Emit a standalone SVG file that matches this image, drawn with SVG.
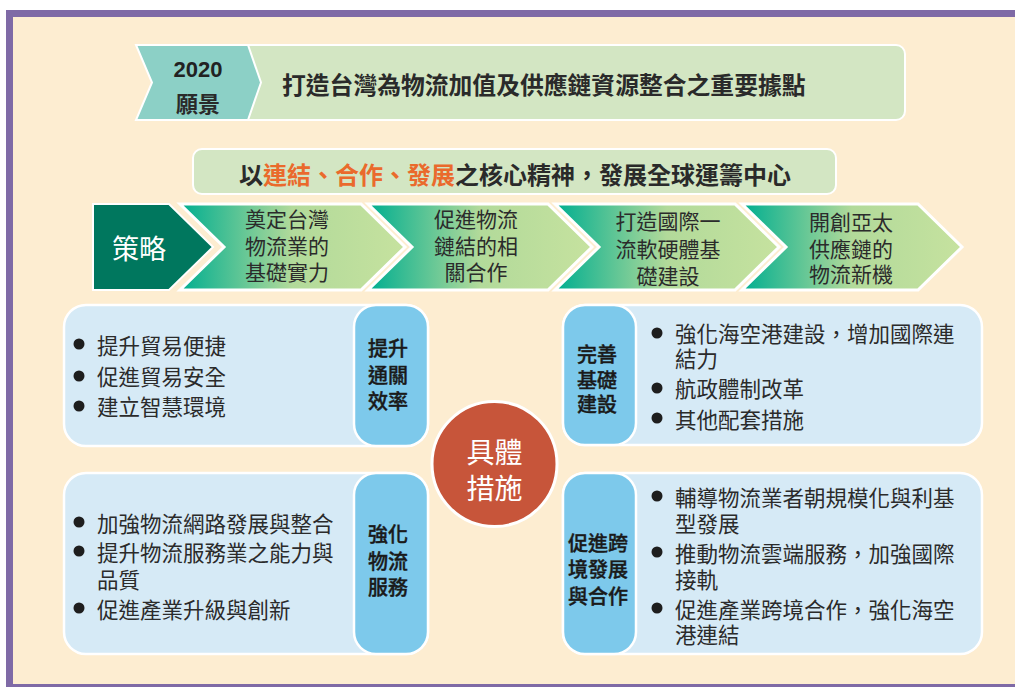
<svg xmlns="http://www.w3.org/2000/svg" width="1015" height="687" viewBox="0 0 1015 687">
<defs>
<style>
text{font-family:"Noto Sans CJK TC","Noto Sans CJK SC",sans-serif;}
.t{font-size:21.5px;fill:#2b2b2b;dominant-baseline:central;}
.lbl{font-size:20px;fill:#1a1a1a;font-weight:500;text-anchor:middle;dominant-baseline:central;stroke:#1a1a1a;stroke-width:0.4;}
.chev{fill:url(#g);stroke:#fff;stroke-width:3;stroke-linejoin:miter;}
.ct{font-size:21px;fill:#2b2b2b;text-anchor:middle;dominant-baseline:central;}
.box{fill:#D6EAF6;stroke:#fff;stroke-width:2.5;}
.tab{fill:#7DC9EB;stroke:#fff;stroke-width:2.5;}
.dot{fill:#1e1e1e;}
.or{fill:#EA6A2C;}
</style>
<linearGradient id="g" x1="0" y1="0" x2="1" y2="0">
<stop offset="0" stop-color="#00AE90"/>
<stop offset="0.5" stop-color="#B2DA9A"/>
<stop offset="1" stop-color="#C6E29F"/>
</linearGradient>
</defs>

<g id="frame">
<rect x="0" y="0" width="1015" height="687" fill="#ffffff"/>
<rect x="7" y="10" width="1008" height="677" fill="#FDEDD1"/>
<rect x="7" y="10" width="1008" height="7" fill="#7F6AA6"/>
<rect x="6" y="10" width="7" height="677" fill="#7F6AA6"/>
<rect x="6" y="684" width="1009" height="3" fill="#7F6AA6"/>
</g>

<g id="connectors"></g>

<g id="vision">
<rect x="230" y="45" width="675" height="75" rx="9" fill="#D3E6C3" stroke="#fff" stroke-width="2"/>
<polygon points="136,45 248,45 261,82.5 248,120 136,120 152,82.5" fill="#8CD0C6" stroke="#fff" stroke-width="2"/>
<text x="198" y="69" text-anchor="middle" dominant-baseline="central" style="font-family:'Liberation Sans',Arial,sans-serif;font-size:22px;font-weight:bold;fill:#222">2020</text>
<text x="198" y="102" text-anchor="middle" dominant-baseline="central" style="font-size:22px;font-weight:bold;fill:#2a2a2a">願景</text>
<text x="282" y="83" dominant-baseline="central" style="font-size:23.8px;font-weight:bold;fill:#2a2a2a">打造台灣為物流加值及供應鏈資源整合之重要據點</text>
</g>

<g id="mission">
<rect x="193" y="149" width="643" height="45" rx="9" fill="#D3E6C3" stroke="#fff" stroke-width="2"/>
<text x="515" y="173" text-anchor="middle" dominant-baseline="central" style="font-size:24px;font-weight:bold;fill:#2a2a2a">以<tspan class="or">連結、合作、發展</tspan>之核心精神，發展全球運籌中心</text>
</g>

<g id="strategy">
<polygon points="93,204 169,204 213,247 169,290 93,290" fill="#00775E" stroke="#fff" stroke-width="2"/>
<text x="139" y="247" text-anchor="middle" dominant-baseline="central" style="font-size:27px;fill:#fff">策略</text>
</g>

<g id="s1">
<polygon class="chev" points="180,204 361,204 405,247 361,290 180,290 224,247"/>
<text class="ct" x="287" y="218">奠定台灣</text>
<text class="ct" x="287" y="245">物流業的</text>
<text class="ct" x="287" y="271">基礎實力</text>
</g>
<g id="s2">
<polygon class="chev" points="368,204 548,204 592,247 548,290 368,290 412,247"/>
<text class="ct" x="476" y="218">促進物流</text>
<text class="ct" x="476" y="245">鏈結的相</text>
<text class="ct" x="476" y="271">關合作</text>
</g>
<g id="s3">
<polygon class="chev" points="555,204 735,204 779,247 735,290 555,290 599,247"/>
<text class="ct" x="668" y="220">打造國際一</text>
<text class="ct" x="668" y="248">流軟硬體基</text>
<text class="ct" x="668" y="275">礎建設</text>
</g>
<g id="s4">
<polygon class="chev" points="742,204 918,204 962,247 918,290 742,290 786,247"/>
<text class="ct" x="851" y="221">開創亞太</text>
<text class="ct" x="851" y="248">供應鏈的</text>
<text class="ct" x="851" y="273">物流新機</text>
</g>

<g id="m1">
<rect class="box" x="64" y="305" width="364" height="141" rx="22"/>
<rect class="tab" x="354" y="305" width="74" height="141" rx="22"/>
<circle class="dot" cx="79" cy="344" r="5.5"/>
<circle class="dot" cx="79" cy="376" r="5.5"/>
<circle class="dot" cx="79" cy="406" r="5.5"/>
<text class="t" x="97" y="344">提升貿易便捷</text>
<text class="t" x="97" y="375">促進貿易安全</text>
<text class="t" x="97" y="405">建立智慧環境</text>
<text class="lbl" x="388" y="347">提升</text>
<text class="lbl" x="388" y="374">通關</text>
<text class="lbl" x="388" y="400">效率</text>
</g>

<g id="m2">
<rect class="box" x="563" y="305" width="419" height="140" rx="22"/>
<rect class="tab" x="563" y="305" width="73" height="140" rx="22"/>
<text class="lbl" x="597" y="353">完善</text>
<text class="lbl" x="597" y="379">基礎</text>
<text class="lbl" x="597" y="403">建設</text>
<circle class="dot" cx="657" cy="333" r="5.5"/>
<circle class="dot" cx="657" cy="388" r="5.5"/>
<circle class="dot" cx="657" cy="418" r="5.5"/>
<text class="t" x="675" y="332">強化海空港建設，增加國際連</text>
<text class="t" x="675" y="357">結力</text>
<text class="t" x="675" y="387">航政體制改革</text>
<text class="t" x="675" y="418">其他配套措施</text>
</g>

<g id="m3">
<rect class="box" x="64" y="473" width="364" height="181" rx="22"/>
<rect class="tab" x="354" y="473" width="74" height="181" rx="22"/>
<circle class="dot" cx="79" cy="522" r="5.5"/>
<circle class="dot" cx="79" cy="551" r="5.5"/>
<circle class="dot" cx="79" cy="608" r="5.5"/>
<text class="t" x="97" y="522">加強物流網路發展與整合</text>
<text class="t" x="97" y="551">提升物流服務業之能力與</text>
<text class="t" x="97" y="578">品質</text>
<text class="t" x="97" y="608">促進產業升級與創新</text>
<text class="lbl" x="388" y="533">強化</text>
<text class="lbl" x="388" y="560">物流</text>
<text class="lbl" x="388" y="586">服務</text>
</g>

<g id="m4">
<rect class="box" x="563" y="473" width="419" height="181" rx="22"/>
<rect class="tab" x="563" y="473" width="73" height="181" rx="22"/>
<text class="lbl" x="598" y="542">促進跨</text>
<text class="lbl" x="598" y="568">境發展</text>
<text class="lbl" x="598" y="595">與合作</text>
<circle class="dot" cx="657" cy="496" r="5.5"/>
<circle class="dot" cx="657" cy="552" r="5.5"/>
<circle class="dot" cx="657" cy="608" r="5.5"/>
<text class="t" x="675" y="496">輔導物流業者朝規模化與利基</text>
<text class="t" x="675" y="522">型發展</text>
<text class="t" x="675" y="552">推動物流雲端服務，加強國際</text>
<text class="t" x="675" y="578">接軌</text>
<text class="t" x="675" y="608">促進產業跨境合作，強化海空</text>
<text class="t" x="675" y="633">港連結</text>
</g>

<g id="center">
<circle cx="494.5" cy="464" r="62.5" fill="#C7553A" stroke="#fff" stroke-width="3"/>
<text x="494.5" y="451" text-anchor="middle" dominant-baseline="central" style="font-size:28px;fill:#fff">具體</text>
<text x="494.5" y="487" text-anchor="middle" dominant-baseline="central" style="font-size:28px;fill:#fff">措施</text>
</g>
</svg>
